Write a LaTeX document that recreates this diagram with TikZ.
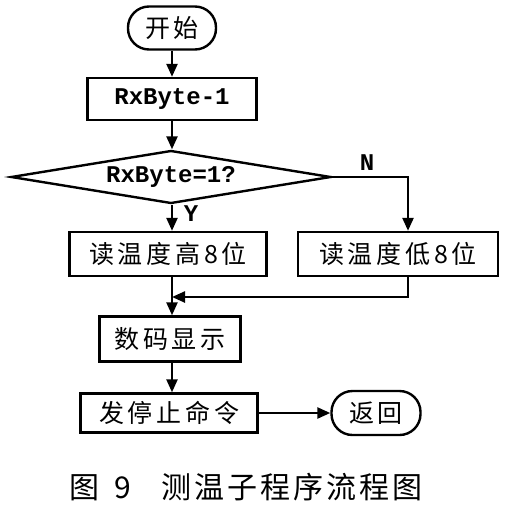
\documentclass[tikz,border=0pt]{standalone}
\usepackage{fontspec}
\newfontfamily\cjk[LetterSpace=15]{Noto Sans CJK SC}
\newfontfamily\capf[LetterSpace=10]{Noto Sans CJK SC}
\newfontfamily\monof{Liberation Mono}
\usetikzlibrary{arrows.meta,positioning,shapes.geometric}

\tikzset{
  box/.style={draw, line width=2.4pt, inner sep=0pt, font=\cjk\fontsize{25}{25}\selectfont},
  term/.style={box, rounded corners=21pt},
  mono/.style={font=\monof\bfseries\fontsize{24}{24}\selectfont},
  flow/.style={line width=2.4pt, -{Triangle[length=13pt,width=11pt]}},
  plain/.style={line width=2.4pt},
}

\begin{document}
\begin{tikzpicture}[x=1pt, y=-1pt]
        \useasboundingbox (0,0) rectangle (518,517);

        % start and counter step
        \node[term, minimum width=88pt, minimum height=43pt] (start) at (172,28) {开始};
        \node[box, mono, minimum width=169pt, minimum height=42pt] (dec) at (172,99) {RxByte-1};

        % decision
        \node[box, mono, shape=diamond, shape aspect=6, minimum width=320pt, minimum height=53pt] (check) at (171,177) {\raisebox{3pt}{RxByte=1?}};
        \node[mono] (nlab) at (367,163) {N};
        \node[mono] (ylab) at (191,214) {Y};

        % the two reads
        \node[box, minimum width=197pt, minimum height=44pt] (readhi) at (168,254) {读温度高8位};
        \node[box, minimum width=200pt, minimum height=44pt] (readlo) at (398,254) {读温度低8位};
        \coordinate (merge) at (172,297);

        % display, stop, return
        \node[box, minimum width=141pt, minimum height=45pt] (show) at (170,339) {数码显示};
        \node[box, minimum width=177pt, minimum height=39pt] (stop) at (169,413) {发停止命令};
        \node[term, minimum width=89pt, minimum height=44pt] (ret) at (376,413) {返回};

        \draw[flow] (start.south -| merge) -- (dec.north -| merge);
        \draw[flow] (dec.south -| merge) -- (check.north -| merge);
        \draw[flow] (check.south -| merge) -- (readhi.north -| merge);
        \draw[flow] (check.east) -| ([xshift=10pt]readlo.north);
        \draw[plain] (readhi.south -| merge) -- (merge);
        \draw[flow] ([xshift=10pt]readlo.south) |- (merge);
        \draw[flow] (merge) -- (show.north -| merge);
        \draw[flow] (show.south -| merge) -- (stop.north -| merge);
        \draw[flow] (stop.east) -- (ret.west);

        % caption
        \node[font=\capf\fontsize{30}{30}\selectfont] (cap) at (246,487) {图\enspace 9\enspace\, 测温子程序流程图};
\end{tikzpicture}
\end{document}
